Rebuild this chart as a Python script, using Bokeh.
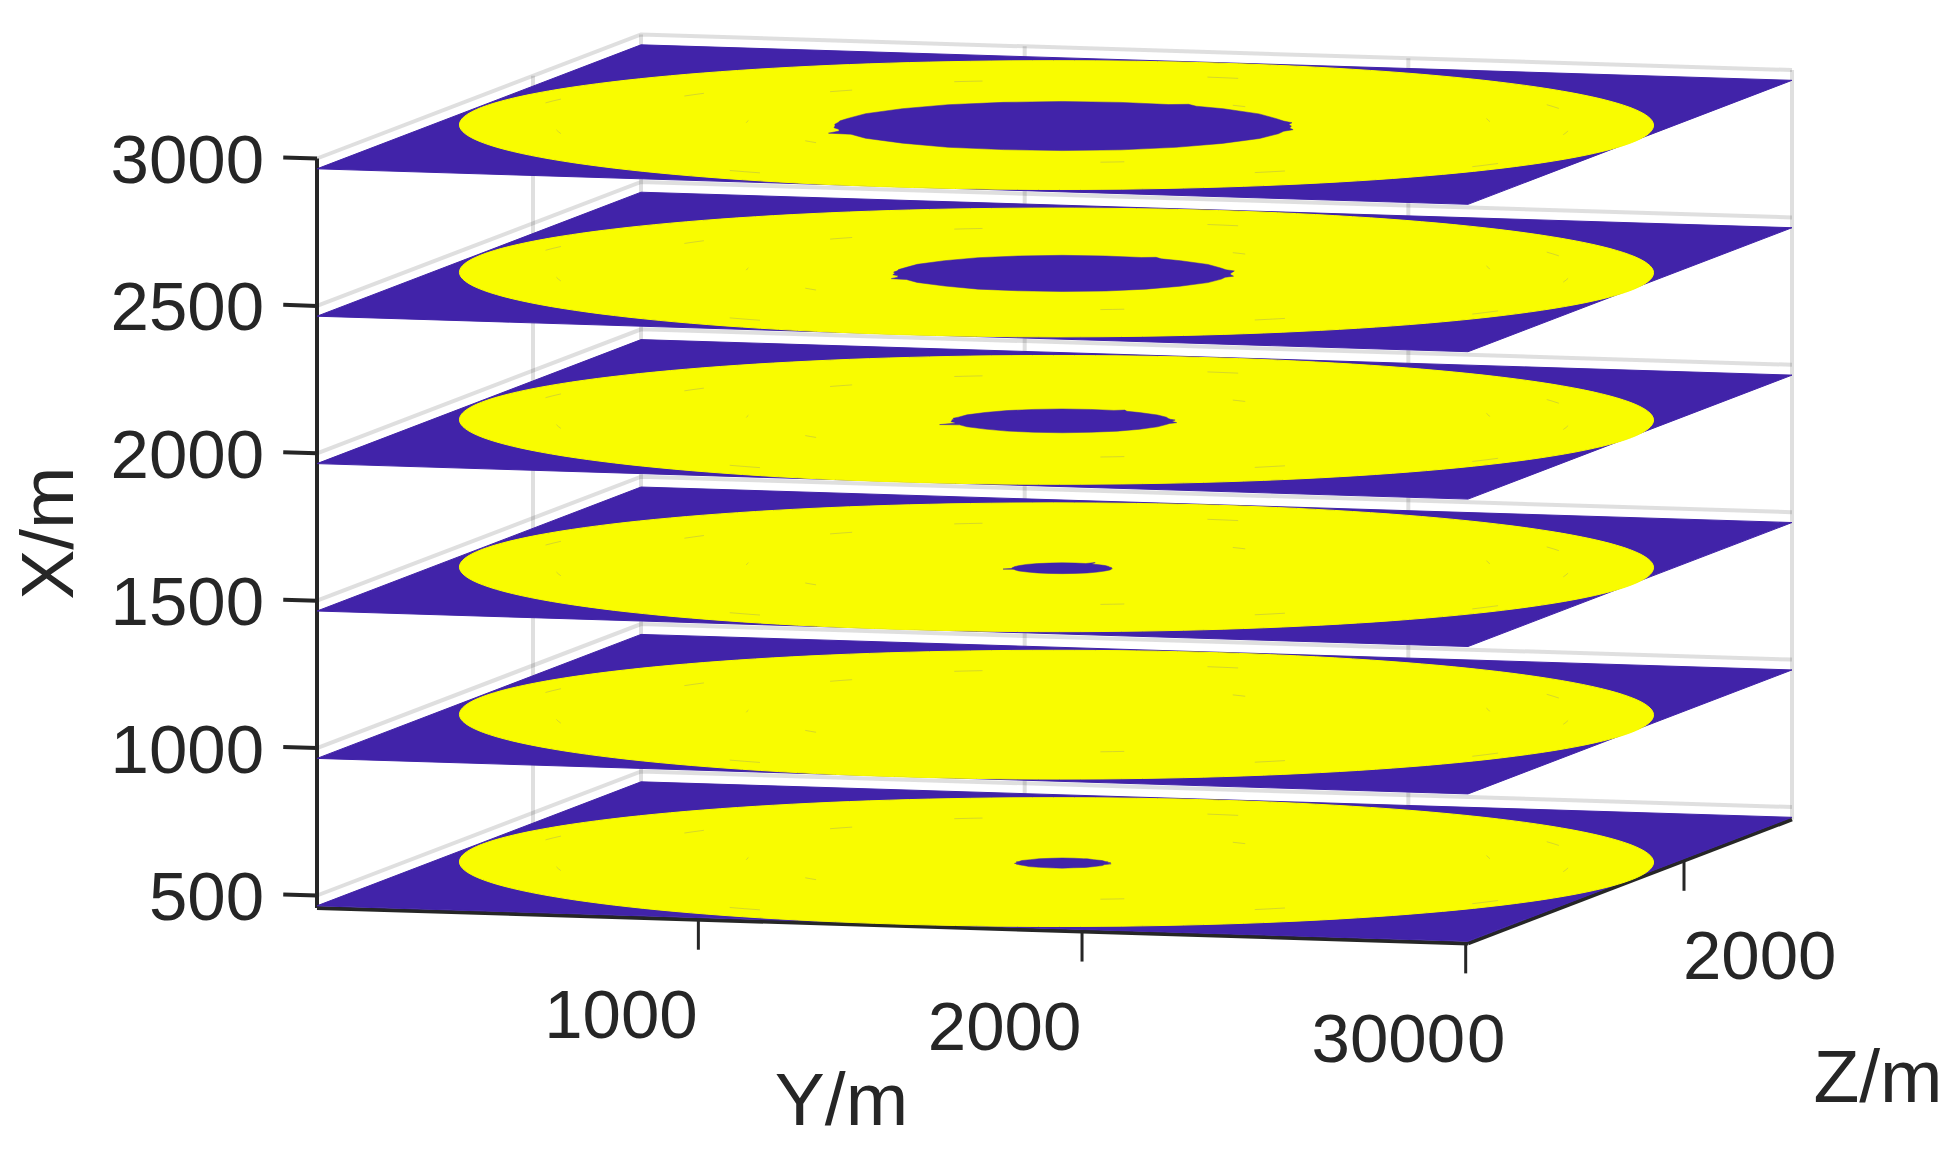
import numpy as np
from bokeh.plotting import figure
from bokeh.core.properties import value
from bokeh.embed import file_html
from bokeh.resources import INLINE

# ---- data (metres) ----
x_ticks = [500, 1000, 1500, 2000, 2500, 3000]
y_ticks = [1000, 2000, 3000]
z_ticks = [0, 2000]
y_lim = [0, 3000]
z_lim = [0, 3000]
x_lim = [458, 3000]
plane_levels = [465, 965, 1465, 1965, 2465, 2965]
disk_radius = 1498
disk_center = (1508, 1490)
hole_center = (1528, 1472)
hole_angle = [0, 4, 8, 12, 18, 30, 45, 54, 58, 62, 75, 90, 105, 120, 135, 150, 162, 168, 172, 176,
              180, 184, 188, 192, 196, 200, 210, 225, 240, 255, 270, 285, 300, 315, 330, 342, 348, 352, 356]
hole_465 = [118, 122, 112, 118, 114, 116, 112, 115, 117, 114, 116, 118, 114, 116, 112, 117, 114, 118, 113, 116,
            116, 120, 112, 118, 114, 116, 112, 117, 114, 116, 118, 113, 117, 114, 116, 112, 118, 124, 114]
hole_965 = [0] * 39
hole_1465 = [124, 123, 125, 122, 124, 125, 124, 125, 156, 126, 125, 126, 124, 125, 126, 124, 125, 124, 126, 125,
             126, 130, 150, 126, 124, 125, 126, 124, 125, 126, 125, 124, 126, 125, 124, 126, 125, 125, 126]
hole_1965 = [276, 284, 274, 272, 275, 276, 274, 276, 296, 276, 275, 277, 275, 276, 274, 276, 274, 280, 275, 278,
             276, 280, 272, 276, 320, 274, 276, 273, 276, 275, 277, 274, 276, 275, 276, 274, 276, 290, 280]
hole_2465 = [422, 428, 436, 420, 418, 422, 420, 422, 444, 422, 420, 422, 420, 422, 418, 420, 416, 420, 418, 424,
             420, 426, 416, 422, 446, 416, 420, 416, 422, 418, 420, 422, 420, 418, 422, 420, 418, 434, 424]
hole_2965 = [575, 570, 582, 568, 565, 570, 572, 572, 598, 568, 570, 572, 570, 572, 568, 570, 566, 570, 568, 572,
             570, 574, 566, 572, 610, 564, 570, 566, 572, 568, 570, 572, 570, 568, 572, 570, 568, 585, 572]
holes = [hole_465, hole_965, hole_1465, hole_1965, hole_2465, hole_2965]

# faint marks inside the yellow discs: radius (m), angle (deg)
mark_radius = [1380, 1150, 1260, 960, 780, 1320, 1090, 640, 1420, 1210, 870, 1340, 1040, 1180, 730, 1290]
mark_angle = [172, 158, 203, 140, 190, 35, 22, 60, 335, 312, 295, 250, 118, 85, 228, 8]

# ---- oblique view of the 3-D box, in page pixels ----
O_PX, O_PY = 316.5, 158.0
YX, YY = 1151 / 3000, 35.5 / 3000
ZX, ZY = 324 / 3000, -124 / 3000
XK = 0.2948
PHI = 15.7  # orientation of the projected circle


def proj(Y, Z, X):
    Y, Z, X = np.asarray(Y, float), np.asarray(Z, float), np.asarray(X, float)
    return O_PX + Y * YX + Z * ZX, O_PY + (x_lim[1] - X) * XK + Y * YY + Z * ZY


DARK = "#262626"
BLUE = "#4123A9"
YEL = "#F9FC00"
FONT = value("Liberation Sans")

p = figure(width=1948, height=1143, x_range=(0, 1948), y_range=(1143, 0),
           output_backend="svg", toolbar_location=None, min_border=0)
p.axis.visible = False
p.grid.visible = False
p.outline_line_color = None
p.background_fill_color = "white"


def seg(Y, Z, X, **kw):
    px, py = proj(Y, Z, X)
    p.line(px.tolist(), py.tolist(), line_cap="butt", **kw)


grid = dict(line_color=DARK, line_alpha=0.15, line_width=4)
for xt in x_ticks:
    seg([0, 0, y_lim[1]], [0, z_lim[1], z_lim[1]], [xt, xt, xt], line_join="miter", **grid)
for zt in z_ticks[1:]:
    seg([0, 0], [zt, zt], x_lim, **grid)
for yt in [0] + y_ticks:
    seg([yt, yt], [z_lim[1], z_lim[1]], x_lim, **grid)

axis_kw = dict(line_color=DARK, line_width=4)
seg([0, 0], [0, 0], x_lim, **axis_kw)
seg([0, y_lim[1]], [0, 0], [x_lim[0]] * 2, **axis_kw)
seg([y_lim[1], y_lim[1]], [0, z_lim[1]], [x_lim[0]] * 2, **axis_kw)
for xt in x_ticks:
    seg([-88, 0], [0, 0], [xt, xt], **axis_kw)
for yt in y_ticks:
    seg([yt - 6, yt - 6], [0, 0], [x_lim[0], x_lim[0] - 102], line_color=DARK, line_width=3)
for zt in z_ticks[1:]:
    seg([y_lim[1], y_lim[1]], [zt, zt], [x_lim[0], x_lim[0] - 102], line_color=DARK, line_width=3)

# planes
theta = np.radians(np.arange(0, 360, 2.0))
for lev, hole in zip(plane_levels, holes):
    px, py = proj([0, 0, 3000, 3000], [0, 3000, 3000, 0], [lev] * 4)
    p.patch(px.tolist(), py.tolist(), fill_color=BLUE, line_color=BLUE, line_width=1)
    dy = disk_center[0] + disk_radius * np.cos(theta)
    dz = disk_center[1] + disk_radius * np.sin(theta)
    px, py = proj(dy, dz, np.full_like(dy, lev))
    p.patch(px.tolist(), py.tolist(), fill_color=YEL, line_color=YEL, line_width=1)
    for mr, ma in zip(mark_radius, mark_angle):
        arc = np.radians(np.array([ma - 2.0, ma, ma + 2.0]))
        seg(disk_center[0] + mr * np.cos(arc), disk_center[1] + mr * np.sin(arc), [lev] * 3,
            line_color="#A8A860", line_alpha=0.45, line_width=1)
    if max(hole) > 0:
        a = np.radians(np.array(hole_angle) + PHI)
        r = np.array(hole, float)
        hy = hole_center[0] + r * np.cos(a)
        hz = hole_center[1] + r * np.sin(a)
        px, py = proj(hy, hz, np.full_like(hy, lev))
        p.patch(px.tolist(), py.tolist(), fill_color=BLUE, line_color=BLUE, line_width=0.5)

# tick labels
TICK = "69px"
BL = 25  # Bokeh's alphabetic baseline sits this far below the requested y
px, py = proj([0] * len(x_ticks), [0] * len(x_ticks), x_ticks)
p.text((px - 53).tolist(), (py + 26 - BL).tolist(), text=[str(v) for v in x_ticks], text_font=FONT,
       text_font_size=TICK, text_color=DARK, text_align="right", text_baseline="alphabetic")
px, py = proj(y_ticks, [0] * 3, [x_lim[0]] * 3)
p.text((px - 3).tolist(), (py + 120 - BL).tolist(), text=[str(v) for v in y_ticks], text_font=FONT,
       text_font_size=TICK, text_color=DARK, text_align="right", text_baseline="alphabetic")
px, py = proj([3000] * 2, z_ticks, [x_lim[0]] * 2)
p.text((px - 1).tolist(), (py + 120 - BL).tolist(), text=[str(v) for v in z_ticks], text_font=FONT,
       text_font_size=TICK, text_color=DARK, text_align="left", text_baseline="alphabetic")

# axis titles
LAB = "75px"
BL2 = 27
px, py = proj(0, 0, 1729)
p.text([float(px) - 270], [float(py)], text=["X/m"], text_font=FONT, text_font_size=LAB, text_color=DARK,
       text_align="center", text_baseline="middle", angle=np.pi / 2)
px, py = proj(1500, 0, x_lim[0])
p.text([float(px) - 51], [float(py) + 200 - BL2], text=["Y/m"], text_font=FONT, text_font_size=LAB, text_color=DARK,
       text_align="center", text_baseline="alphabetic")
px, py = proj(3000, 1500, x_lim[0])
p.text([float(px) + 248], [float(py) + 222 - BL2], text=["Z/m"], text_font=FONT, text_font_size=LAB, text_color=DARK,
       text_align="center", text_baseline="alphabetic")

open("out.html", "w").write(file_html(p, INLINE))
